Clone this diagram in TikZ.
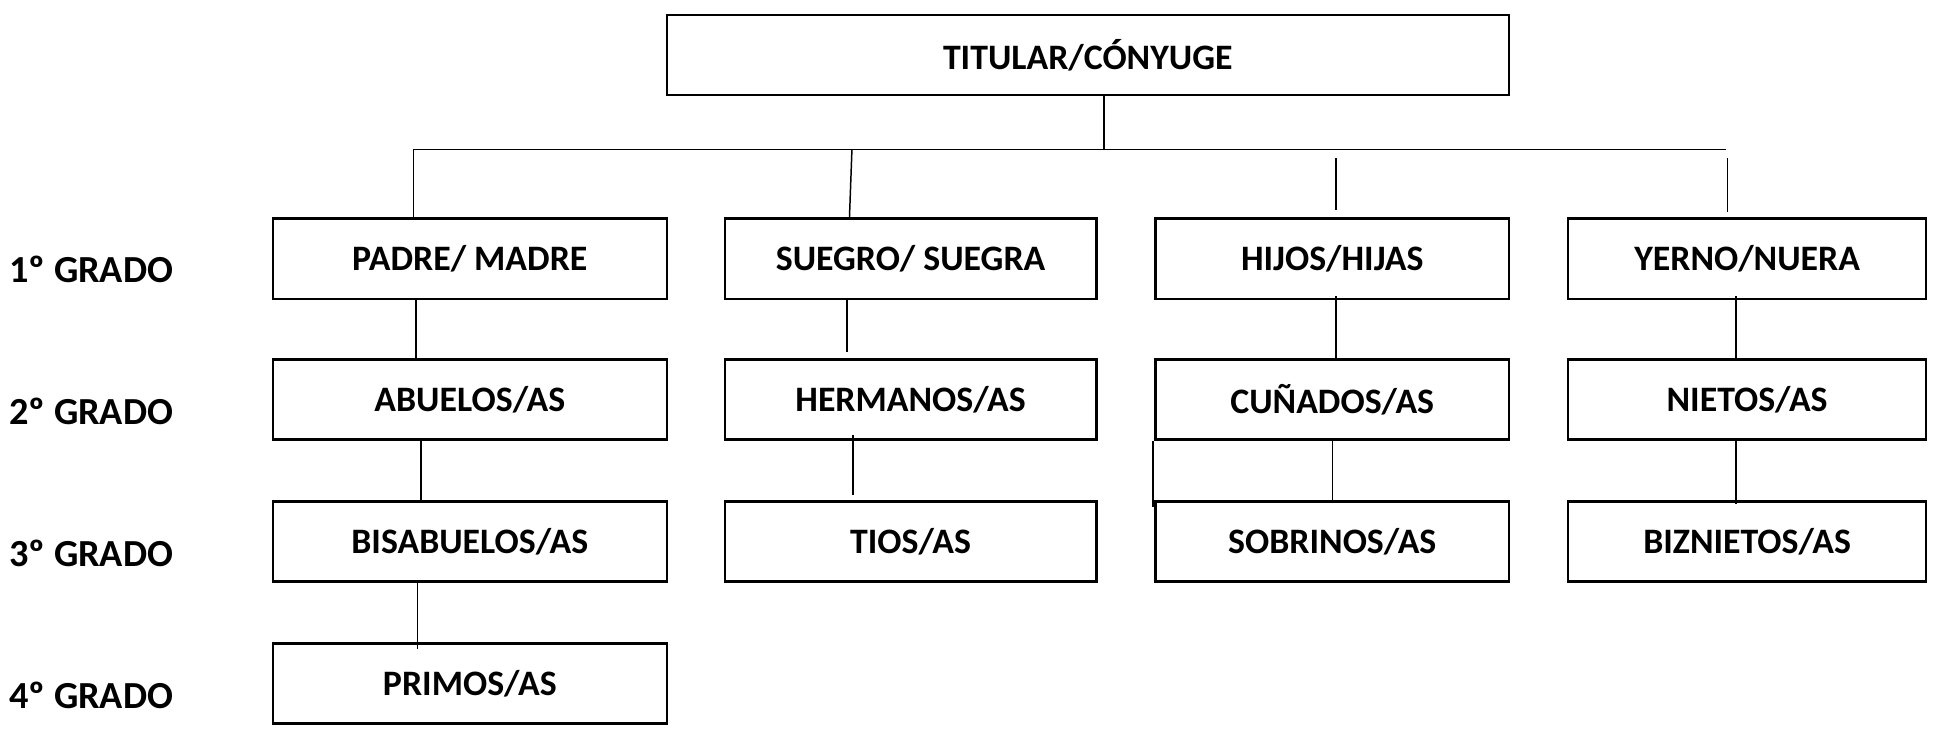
\documentclass[tikz,border=0pt]{standalone}
\usepackage{fontspec}
\setmainfont{Carlito}
\begin{document}
\begin{tikzpicture}[x=1pt,y=-1pt,
  box/.style={draw,line width=2pt,minimum height=65pt,inner sep=0pt,font=\fontsize{29}{30}\selectfont\bfseries},
  lab/.style={font=\fontsize{31}{32}\selectfont\bfseries,anchor=west},
  ln/.style={line width=1.2pt}]
\useasboundingbox (0,0) rectangle (1568,600.8);
\node[box,minimum width=682pt] (top) at (881,44.5) {TITULAR/CÓNYUGE};
\foreach \r/\y in {1/209.5,2/323.5,3/438.5}{}
\node[box,minimum width=319pt] (a1) at (380.5,209.5) {PADRE/ MADRE};
\node[box,minimum width=301pt] (b1) at (737.5,209.5) {SUEGRO/ SUEGRA};
\node[box,minimum width=286pt] (c1) at (1079,209.5) {HIJOS/HIJAS};
\node[box,minimum width=290pt] (d1) at (1415,209.5) {YERNO/NUERA};
\node[box,minimum width=319pt] (a2) at (380.5,323.5) {ABUELOS/AS};
\node[box,minimum width=301pt] (b2) at (737.5,323.5) {HERMANOS/AS};
\node[box,minimum width=286pt] (c2) at (1079,323.5) {CUÑADOS/AS};
\node[box,minimum width=290pt] (d2) at (1415,323.5) {NIETOS/AS};
\node[box,minimum width=319pt] (a3) at (380.5,438.5) {BISABUELOS/AS};
\node[box,minimum width=301pt] (b3) at (737.5,438.5) {TIOS/AS};
\node[box,minimum width=286pt] (c3) at (1079,438.5) {SOBRINOS/AS};
\node[box,minimum width=290pt] (d3) at (1415,438.5) {BIZNIETOS/AS};
\node[box,minimum width=319pt] (a4) at (380.5,553.5) {PRIMOS/AS};
\node[lab] (g1) at (4,218) {1º GRADO};
\node[lab] (g2) at (4,333) {2º GRADO};
\node[lab] (g3) at (4,448) {3º GRADO};
\node[lab] (g4) at (4,563) {4º GRADO};
% tree
\coordinate (j) at (894,121);
\coordinate (hl) at (335,121);
\coordinate (hr) at (1398,121);
\draw[ln] ([xshift=13pt]top.south) -- (j);
\draw[ln] (hl) -- (hr);
\draw[ln] (hl) -- (hl |- a1.north);
\draw[ln] (690,121) coordinate (jb) -- ([xshift=-49.5pt]b1.north);
\draw[ln] (1082,128) coordinate (jc) -- (1082,170);
\draw[ln] (1399,128) coordinate (jd) -- (1399,172);
\draw[ln] ([xshift=-43.5pt]a1.south) -- ([xshift=-43.5pt]a2.north);
\draw[ln] ([xshift=-39.5pt]a2.south) -- ([xshift=-39.5pt]a3.north);
\draw[ln] ([xshift=-42.5pt]a3.south) -- ([xshift=-42.5pt,yshift=-6pt]a4.north);
\draw[ln] ([xshift=-51.5pt]b1.south) -- ([xshift=-51.5pt,yshift=5pt]b2.north);
\draw[ln] ([xshift=-46.5pt,yshift=5pt]b2.south) -- ([xshift=-46.5pt,yshift=4pt]b3.north);
\draw[ln] ([xshift=3pt,yshift=3pt]c1.south) -- ([xshift=3pt]c2.north);
\draw[ln] ([xshift=0pt,yshift=2pt]c2.south) -- (c3.north);
\draw[ln] ([xshift=-1pt]c2.south west) -- ([xshift=-1pt,yshift=-6pt]c3.north west);
\draw[ln] ([xshift=-9pt,yshift=3pt]d1.south) -- ([xshift=-9pt]d2.north);
\draw[ln] ([xshift=-9pt,yshift=2pt]d2.south) -- ([xshift=-9pt,yshift=-3pt]d3.north);
\end{tikzpicture}
\end{document}
